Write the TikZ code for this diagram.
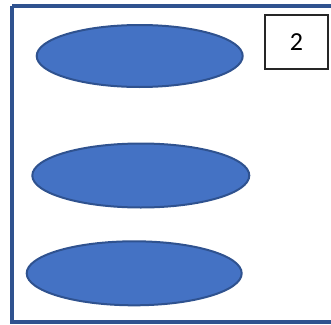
\documentclass[tikz,border=0pt]{standalone}
\usepackage{fontspec}
\setmainfont{Carlito}
\usetikzlibrary{shapes.geometric}
\definecolor{offblue}{HTML}{4472C4}
\definecolor{offdark}{HTML}{2F528F}
\begin{document}
\begin{tikzpicture}[x=1pt,y=-1pt,
  blob/.style={ellipse,draw=offdark,fill=offblue,line width=2pt,inner sep=0pt},
  numbox/.style={draw=black!85,line width=1.2pt,inner sep=0pt,font=\fontsize{26}{28}\selectfont}]
\useasboundingbox (0,0) rectangle (331,324);
\draw[offdark,line width=4pt] (12,6) -- (334,6) (12,6) -- (12,321.5) -- (334,321.5);
\node[blob,minimum width=206pt,minimum height=62pt] (e1) at (139.7,56) {};
\node[blob,minimum width=217pt,minimum height=64pt] (e2) at (140.8,175.5) {};
\node[blob,minimum width=215pt,minimum height=64pt] (e3) at (134.2,273.3) {};
\node[numbox,minimum width=63pt,minimum height=54pt] (n) at (296.5,42) {2};
\end{tikzpicture}
\end{document}
